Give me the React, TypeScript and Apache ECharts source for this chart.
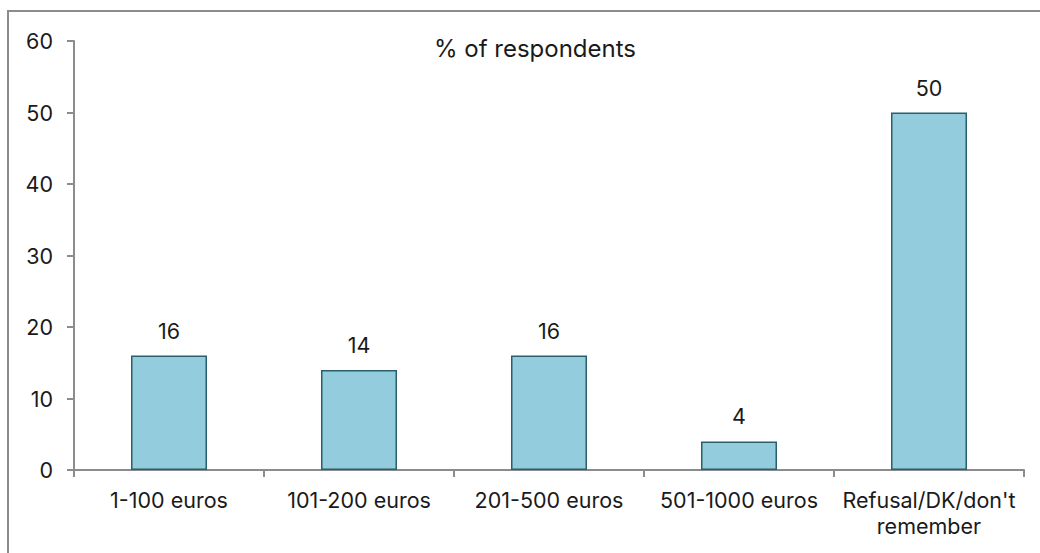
import React, { useEffect, useRef } from "react";
import * as echarts from "echarts";

const categories = ["1-100 euros", "101-200 euros", "201-500 euros", "501-1000 euros", "Refusal/DK/don't\nremember"];
const values = [16, 14, 16, 4, 50];
const yTicks = { min: 0, max: 60, interval: 10 };
const titleText = "% of respondents";

const FONT = "Inter";
const FS = 21.5;

export default function App() {
  const ref = useRef<HTMLDivElement>(null);
  useEffect(() => {
    if (!ref.current) return;
    const chart = echarts.init(ref.current, undefined, { renderer: "svg" });
    chart.setOption({
      animation: false,
      title: {
        text: titleText,
        left: 530,
        top: 31,
        textAlign: "center",
        textStyle: { fontFamily: FONT, fontSize: 24, fontWeight: "normal", color: "#1a1a1a" },
      },
      grid: { left: 74, right: 16, top: 41, bottom: 83 },
      xAxis: {
        type: "category",
        data: categories,
        axisLine: { lineStyle: { color: "#8c8c8c", width: 2 } },
        axisTick: { show: true, length: 7, lineStyle: { color: "#8c8c8c", width: 2 } },
        axisLabel: { fontFamily: FONT, fontSize: FS, color: "#1a1a1a", margin: 17, lineHeight: 26, interval: 0 },
      },
      yAxis: {
        type: "value",
        min: yTicks.min,
        max: yTicks.max,
        interval: yTicks.interval,
        splitLine: { show: false },
        axisLine: { show: true, lineStyle: { color: "#8c8c8c", width: 2 } },
        axisTick: { show: true, length: 7, lineStyle: { color: "#8c8c8c", width: 2 } },
        axisLabel: { fontFamily: FONT, fontSize: FS, color: "#1a1a1a", margin: 21 },
      },
      series: [
        {
          type: "bar",
          data: values,
          barWidth: "40%",
          itemStyle: { color: "#93CDDD", borderColor: "#2B5F6E", borderWidth: 1.5 },
          label: { show: true, position: "top", distance: 14, fontFamily: FONT, fontSize: FS, color: "#1a1a1a" },
        },
      ],
    });
    return () => chart.dispose();
  }, []);
  return (
    <div>
      <div
        style={{
          position: "absolute",
          left: 7,
          top: 10,
          width: 1200,
          height: 700,
          border: "2px solid #8c8c8c",
          boxSizing: "border-box",
        }}
      />
      <div ref={ref} style={{ position: "absolute", left: 0, top: 0, width: 1040, height: 553 }} />
    </div>
  );
}
